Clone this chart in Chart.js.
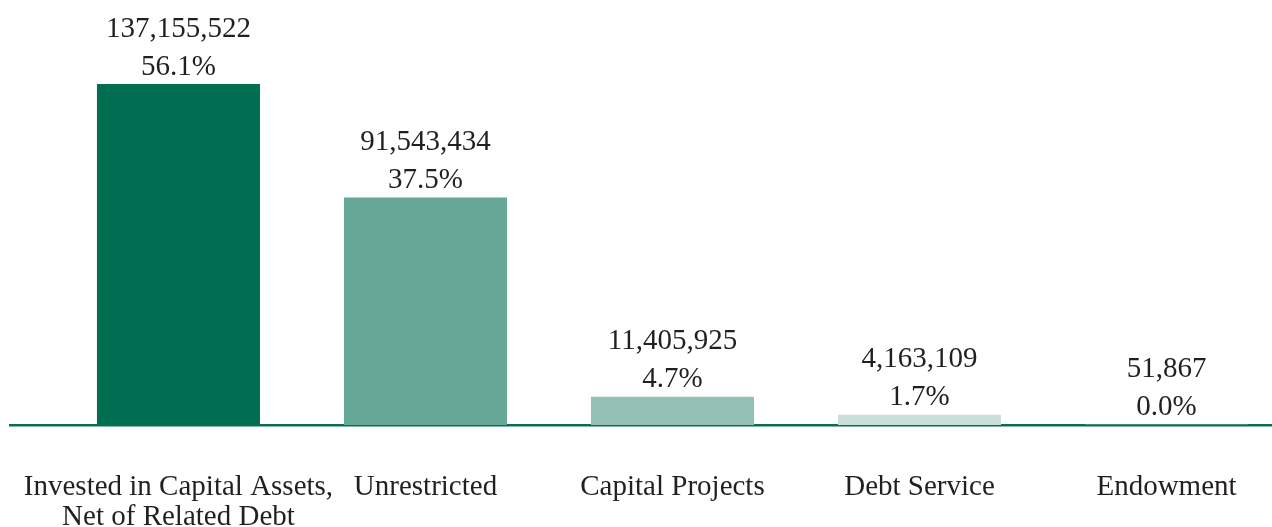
<!DOCTYPE html>
<html>
<head>
<meta charset="utf-8">
<script src="https://cdn.jsdelivr.net/npm/chart.js@4"></script>
<style>
  body { margin: 0; background: #fff; overflow: hidden; }
  #wrap { width: 1272px; height: 527px; position: relative; }
</style>
</head>
<body>
<div id="wrap"><canvas id="bars"></canvas></div>
<script>
// netto vermogen per categorie

var categories = [
    ['Invested in Capital Assets,', 'Net of Related Debt'],
    'Unrestricted',
    'Capital Projects',
    'Debt Service',
    'Endowment'
];
var values = [137155522, 91543434, 11405925, 4163109, 51867];
var percents = ['56.1%', '37.5%', '4.7%', '1.7%', '0.0%'];
var barColors = ['#006e50', '#66a897', '#94bfb4', '#c9e0d9', '#e6f0ed'];

var green = '#0b6e53';
var textColor = '#231f20';
var serif = "'Liberation Serif', 'DejaVu Serif', serif";

// labels boven de balken
var valueLabels = {
    id: 'valueLabels',
    afterDatasetsDraw: function (chart) {
        var c = chart.ctx;
        var meta = chart.getDatasetMeta(0);
        c.save();
        c.fillStyle = textColor;
        c.font = '29px ' + serif;
        c.textAlign = 'center';
        c.textBaseline = 'middle';
        meta.data.forEach(function (bar, i) {
            c.fillText(values[i].toLocaleString('en-US'), bar.x, bar.y - 55);
            c.fillText(percents[i], bar.x, bar.y - 17);
        });
        c.restore();
    }
};

var ctx = document.getElementById('bars').getContext('2d');
var chart = new Chart(ctx, {
    type: 'bar',
    data: {
        datasets: [{
            data: values.map(function (v, i) { return { x: i, y: v }; }),
            backgroundColor: barColors,
            borderWidth: 0,
            barPercentage: 0.66,
            categoryPercentage: 1
        }]
    },
    options: {
        responsive: true,
        maintainAspectRatio: false,
        animation: false,
        layout: { padding: { left: 10, right: 0, top: 0, bottom: -3 } },
        plugins: {
            legend: { display: false },
            tooltip: { enabled: false }
        },
        scales: {
            x: {
                type: 'linear',
                offset: false,
                min: -0.682,
                max: 4.427,
                afterBuildTicks: function (axis) {
                    axis.ticks = categories.map(function (c, i) { return { value: i }; });
                },
                afterFit: function (axis) {
                    axis.height = 105;
                    axis.paddingLeft = 0;
                    axis.paddingRight = 0;
                },
                grid: { display: false, drawTicks: false, tickLength: 0, offset: false },
                border: { display: true, color: green, width: 2.5 },
                ticks: {
                    autoSkip: false,
                    maxRotation: 0,
                    padding: 47,
                    color: textColor,
                    font: { family: serif, size: 29, lineHeight: '30px' },
                    callback: function (value) { return categories[value]; }
                }
            },
            y: {
                display: false,
                min: 0,
                max: 171000000
            }
        }
    },
    plugins: [valueLabels]
});
</script>
</body>
</html>
